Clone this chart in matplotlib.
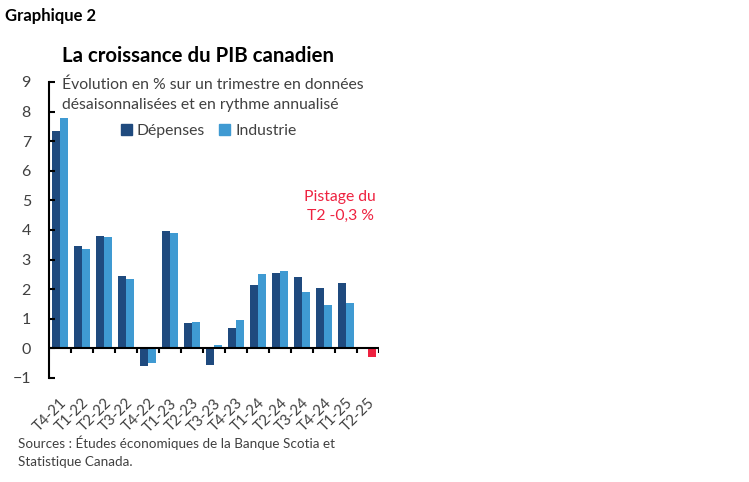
import numpy as np
import matplotlib
matplotlib.use('Agg')
import matplotlib.pyplot as plt
from matplotlib.patches import Patch

plt.rcParams['font.family'] = ['Lato', 'DejaVu Sans']

# données
trimestres = ['T4-21', 'T1-22', 'T2-22', 'T3-22', 'T4-22', 'T1-23', 'T2-23', 'T3-23',
              'T4-23', 'T1-24', 'T2-24', 'T3-24', 'T4-24', 'T1-25', 'T2-25']
depenses = [7.35, 3.45, 3.8, 2.45, -0.6, 3.95, 0.85, -0.55, 0.7, 2.15, 2.55, 2.4, 2.05, 2.2, np.nan]
industrie = [7.8, 3.35, 3.75, 2.35, -0.5, 3.9, 0.9, 0.1, 0.95, 2.5, 2.6, 1.9, 1.45, 1.55, np.nan]
pistage = [np.nan] * 14 + [-0.3]

bleu_fonce = '#1f4a7e'
bleu_clair = '#3f9ad2'
rouge = '#ee2240'
gris = '#404040'

fig = plt.figure(figsize=(7.49, 4.82), dpi=100)
ax = fig.add_axes([0.0654, 0.2158, 0.4406, 0.6141])

x = np.arange(len(trimestres))
w = 0.38
ax.bar(x - w / 2, depenses, width=w, color=bleu_fonce)
ax.bar(x + w / 2, industrie, width=w, color=bleu_clair)
ax.bar(x + w / 2, pistage, width=w, color=rouge)

ax.set_xlim(-0.5, len(trimestres) - 0.5)
ax.set_ylim(-1, 9)
ax.set_yticks(range(-1, 10))
ax.tick_params(axis='y', direction='in', length=4, width=1.5, labelsize=11.5,
               labelcolor=gris, pad=13)
ax.set_xticks(x)
ax.set_xticklabels(trimestres, rotation=45, ha='right', rotation_mode='anchor',
                   fontsize=10.8, color=gris)
ax.tick_params(axis='x', length=0, pad=13)

for s in ['top', 'right', 'bottom']:
    ax.spines[s].set_visible(False)
ax.spines['left'].set_linewidth(1.5)

# axe horizontal à zéro avec les petits traits entre les trimestres
ax.axhline(0, color='black', lw=1.5, zorder=3)
ax.vlines(x + 0.5, -0.17, 0, color='black', lw=1.5, zorder=3)

ax.text(0.04, 1.015, 'Évolution en % sur un trimestre en données\ndésaisonnalisées et en rythme annualisé',
        transform=ax.transAxes, fontsize=11.3, color=gris, va='top', ha='left', linespacing=1.5)

handles = [Patch(color=bleu_fonce, label='Dépenses'), Patch(color=bleu_clair, label='Industrie')]
ax.legend(handles=handles, loc='upper left', bbox_to_anchor=(0.2, 0.878), ncol=2, frameon=False,
          fontsize=11.3, handlelength=0.7, handleheight=0.7, handletextpad=0.3,
          columnspacing=0.9, labelcolor=gris, borderaxespad=0)

ax.text(12.73, 4.78, 'Pistage du\nT2 -0,3 %', color=rouge, fontsize=11.3, ha='center',
        va='center', linespacing=1.45)

fig.text(0.007, 0.967, 'Graphique 2', fontsize=12, fontweight='bold', va='center')
fig.text(0.083, 0.884, 'La croissance du PIB canadien', fontsize=14.7, fontweight='bold', va='center')
fig.text(0.024, 0.062, 'Sources : Études économiques de la Banque Scotia et\nStatistique Canada.',
         fontsize=9.7, color=gris, va='center', linespacing=1.6)

fig.savefig('out.png', dpi=100)
